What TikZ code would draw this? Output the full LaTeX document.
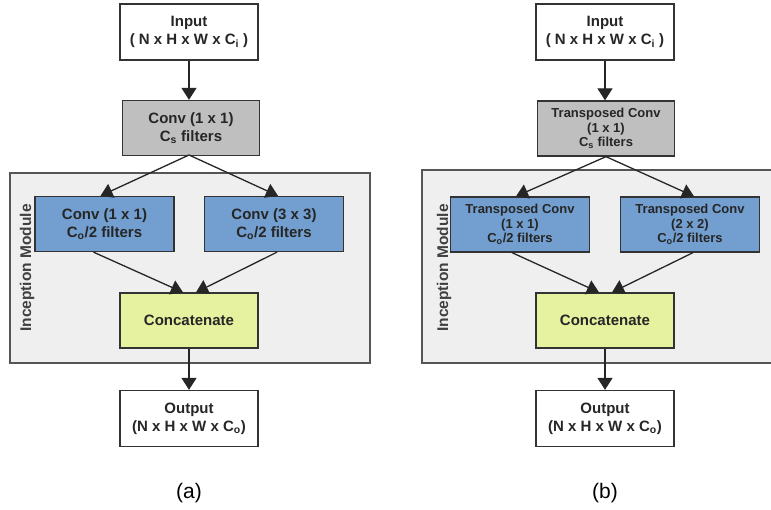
\documentclass[tikz,border=0pt]{standalone}
\usepackage{fontspec}
\setmainfont{Liberation Sans}
\usetikzlibrary{arrows.meta,calc}
\definecolor{grayfill}{RGB}{191,191,191}
\definecolor{bluefill}{RGB}{114,159,207}
\definecolor{yellowfill}{RGB}{230,242,160}
\definecolor{modfill}{RGB}{239,239,239}
\definecolor{edge}{RGB}{51,51,51}
\definecolor{modedge}{RGB}{85,85,85}
\newcommand{\sub}[1]{\textsubscript{#1}}
\begin{document}
\begin{tikzpicture}[x=1pt,y=-1pt,
  box/.style={draw=edge,line width=1.3pt,inner sep=0pt,align=center,
    font=\fontsize{15}{18}\selectfont\bfseries,text=black!85},
  smallbox/.style={box,font=\fontsize{13}{14.5}\selectfont\bfseries},
  iobox/.style={box,fill=white,minimum width=138pt,minimum height=56pt},
  graybox/.style={fill=grayfill,minimum width=137pt,minimum height=55pt},
  bluebox/.style={fill=bluefill,minimum width=139pt,minimum height=55pt},
  concatbox/.style={box,fill=yellowfill,minimum width=138pt,minimum height=55pt},
  module/.style={fill=modfill},
  modline/.style={draw=modedge,line width=1.3pt},
  modlabel/.style={rotate=90,font=\fontsize{15.5}{18}\selectfont\bfseries,text=black!75},
  arr/.style={line width=1.3pt,draw=black!85,-{Triangle[length=12pt,width=15pt]}},
  caption/.style={font=\fontsize{21}{24}\selectfont}]
\useasboundingbox (0,0) rectangle (771,510);
% ---------- (a) ----------
\fill[module] (10,173) rectangle (370,363);
\draw[modline] (10,173) rectangle (370,363);
\node[modlabel] (mla) at (27,268) {Inception Module};
\node[iobox] (ina) at (189,32) {Input\\( N x H x W x C\sub{i} )};
\node[box,graybox] (ga) at (191,128) {Conv (1 x 1)\\C\sub{s} filters};
\node[box,bluebox] (b1a) at (104.5,224) {Conv (1 x 1)\\C\sub{o}/2 filters};
\node[box,bluebox] (b2a) at (274,224) {Conv (3 x 3)\\C\sub{o}/2 filters};
\node[concatbox] (ca) at (189,320.5) {Concatenate};
\node[iobox] (outa) at (189,418.5) {Output\\(N x H x W x C\sub{o})};
\node[caption] (capa) at (189,493) {(a)};
\draw[arr] (ina.south) -- (ina.south|-ga.north);
\draw[arr] (189,155) -- ($(b1a.north)+(-4,0)$);
\draw[arr] (189,155) -- ($(b2a.north)+(4,0)$);
\draw[arr] ($(b1a.south)+(-11,0)$) -- ($(ca.north)+(-6,0)$);
\draw[arr] ($(b2a.south)+(3,0)$) -- ($(ca.north)+(7,0)$);
\draw[arr] (ca.south) -- (outa.north);
% ---------- (b) ----------
\fill[module] (422,170) rectangle (771,363);
\draw[modline] (772,170) -- (422,170) -- (422,363) -- (772,363);
\node[modlabel] (mlb) at (444,268) {Inception Module};
\node[iobox] (inb) at (605,32) {Input\\( N x H x W x C\sub{i} )};
\node[smallbox,graybox] (gb) at (606,128.5) {Transposed Conv\\(1 x 1)\\C\sub{s} filters};
\node[smallbox,bluebox] (b1b) at (520,224.5) {Transposed Conv\\(1 x 1)\\C\sub{o}/2 filters};
\node[smallbox,bluebox] (b2b) at (690,224.5) {Transposed Conv\\(2 x 2)\\C\sub{o}/2 filters};
\node[concatbox] (cb) at (605,320.5) {Concatenate};
\node[iobox] (outb) at (605,418.5) {Output\\(N x H x W x C\sub{o})};
\node[caption] (capb) at (605,493) {(b)};
\draw[arr] (inb.south) -- (inb.south|-gb.north);
\draw[arr] (gb.south) -- ($(b1b.north)+(-4,0)$);
\draw[arr] (gb.south) -- ($(b2b.north)+(4,0)$);
\draw[arr] ($(b1b.south)+(-8,0)$) -- ($(cb.north)+(-6,0)$);
\draw[arr] ($(b2b.south)+(3,0)$) -- ($(cb.north)+(7,0)$);
\draw[arr] (cb.south) -- (outb.north);
\end{tikzpicture}
\end{document}
